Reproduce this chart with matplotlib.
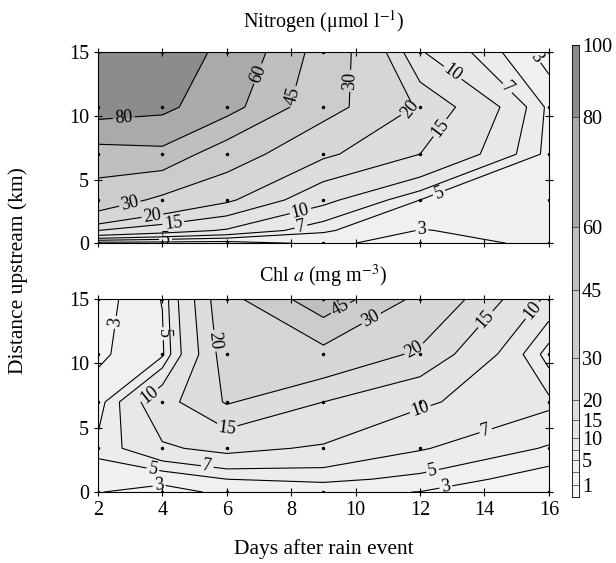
import numpy as np
import matplotlib.pyplot as plt

plt.rcParams['font.family'] = ['Liberation Serif', 'DejaVu Serif']
plt.rcParams['mathtext.fontset'] = 'stix'

# sampling grid: days after rain event x distance upstream (km)
days = [2, 4, 6, 9, 12, 16]
dist = [0, 1, 3.4, 7, 10.7, 15]
stations = [0, 3.4, 7, 10.7, 15]

# rows follow dist, columns follow days
nitrogen = [
    [2.0, 2.0, 2.0, 3.5, 2.0, 3.5],
    [15.0, 12.0, 9.5, 5.3, 2.9, 3.8],
    [38.6, 27.0, 21.0, 11.0, 5.0, 4.0],
    [52.0, 55.0, 36.0, 21.0, 15.0, 4.3],
    [90.0, 85.0, 66.0, 34.0, 19.0, 4.5],
    [95.0, 92.0, 75.0, 38.0, 10.3, 2.0],
]
chla = [
    [3.05, 2.5, 3.3, 3.5, 2.95, 1.5],
    [4.0, 3.4, 5.0, 5.5, 4.5, 1.7],
    [5.5, 9.5, 11.0, 9.5, 7.2, 4.8],
    [4.0, 13.0, 20.5, 15.0, 10.5, 7.5],
    [2.6, 4.6, 23.0, 25.0, 19.0, 4.0],
    [2.0, 5.1, 25.0, 55.0, 26.0, 9.0],
]

levels = [0, 1, 3, 5, 7, 10, 15, 20, 30, 45, 60, 80, 100]
cbar_ticks = [1, 5, 10, 15, 20, 30, 45, 60, 80, 100]
# position of each level along the colour bar (fraction of its height)
cbar_pos = [0, 0.027, 0.055, 0.082, 0.105, 0.13, 0.17, 0.215, 0.307, 0.458, 0.597, 0.84, 1.0]
fills = ['#f8f8f8', '#f4f4f4', '#f0f0f0', '#ececec', '#e8e8e8', '#e3e3e3',
         '#dddddd', '#d6d6d6', '#cccccc', '#bfbfbf', '#aaaaaa', '#8c8c8c']

# where the contour labels sit (day, km)
n_label_at = [(2.8, 9.8), (7.3, 13.0), (8.1, 11.5), (9.5, 12.8), (11.75, 10.3),
              (12.5, 9.3), (12.9, 13.0), (14.6, 11.9), (12.6, 3.9), (12.05, 1.0),
              (3.0, 3.0), (3.7, 2.0), (4.35, 1.4), (8.3, 2.4), (8.3, 1.3),
              (4.1, 0.25), (15.4, 14.2)]
c_label_at = [(2.5, 13.2), (3.95, 12.3), (3.8, 6.9), (5.8, 11.8), (6.0, 4.6),
              (5.4, 2.1), (3.7, 1.7), (3.9, 0.5), (9.6, 14.0), (10.5, 13.4),
              (11.7, 11.7), (13.95, 13.6), (12.0, 6.5), (14.1, 4.3), (12.4, 1.55),
              (12.8, 0.4), (15.6, 13.9)]

fig = plt.figure(figsize=(6.16, 5.63), dpi=100)
ax_n = fig.add_axes([0.159, 0.568, 0.732, 0.339])
ax_c = fig.add_axes([0.159, 0.126, 0.732, 0.343])
cax = fig.add_axes([0.929, 0.117, 0.011, 0.803])

X, Y = np.meshgrid(days, dist)
SX, SY = np.meshgrid(days, stations)


def panel(ax, z, title, label_at, pad):
    z = np.asarray(z)
    ax.set_xlim(2, 16)
    ax.set_ylim(0, 15)
    ax.contourf(X, Y, z, levels=levels, colors=fills)
    cs = ax.contour(X, Y, z, levels=levels[1:], colors='k', linewidths=0.8)
    ax.clabel(cs, fmt='%g', fontsize=13, inline=True, inline_spacing=2,
              manual=label_at)
    ax.plot(SX.ravel(), SY.ravel(), 'k.', ms=3)
    ax.set_xticks(range(2, 17, 2))
    ax.set_yticks([0, 5, 10, 15])
    ax.tick_params(direction='inout', length=6, width=0.8, labelsize=14.5,
                   top=True, right=True)
    ax.set_title(title, fontsize=14.5, pad=pad)


panel(ax_n, nitrogen, 'Nitrogen (μmol l$^{-1}$)', n_label_at, 18)
panel(ax_c, chla, 'Chl $\\it{a}$ (mg m$^{-3}$)', c_label_at, 12)
ax_n.tick_params(labelbottom=False)
ax_c.set_xlabel('Days after rain event', fontsize=15.5, labelpad=14)
fig.text(0.03, 0.52, 'Distance upstream (km)', rotation=90, fontsize=15.5,
         ha='center', va='center')

# colour bar with the uneven level spacing of the original
cax.set_yscale('function', functions=(lambda v: np.interp(v, levels, cbar_pos),
                                      lambda p: np.interp(p, cbar_pos, levels)))
for lo, hi, c in zip(levels[:-1], levels[1:], fills):
    cax.axhspan(lo, hi, color=c, lw=0)
cax.hlines(levels, 0, 1, colors='k', linewidth=0.4)
cax.set_ylim(0, 100)
cax.set_xlim(0, 1)
cax.set_xticks([])
cax.set_yticks(cbar_ticks)
cax.set_yticks([], minor=True)
cax.yaxis.tick_right()
cax.tick_params(axis='y', length=0, labelsize=14.5, pad=2)
for s in cax.spines.values():
    s.set_linewidth(0.6)

fig.savefig('out.png', dpi=100)
